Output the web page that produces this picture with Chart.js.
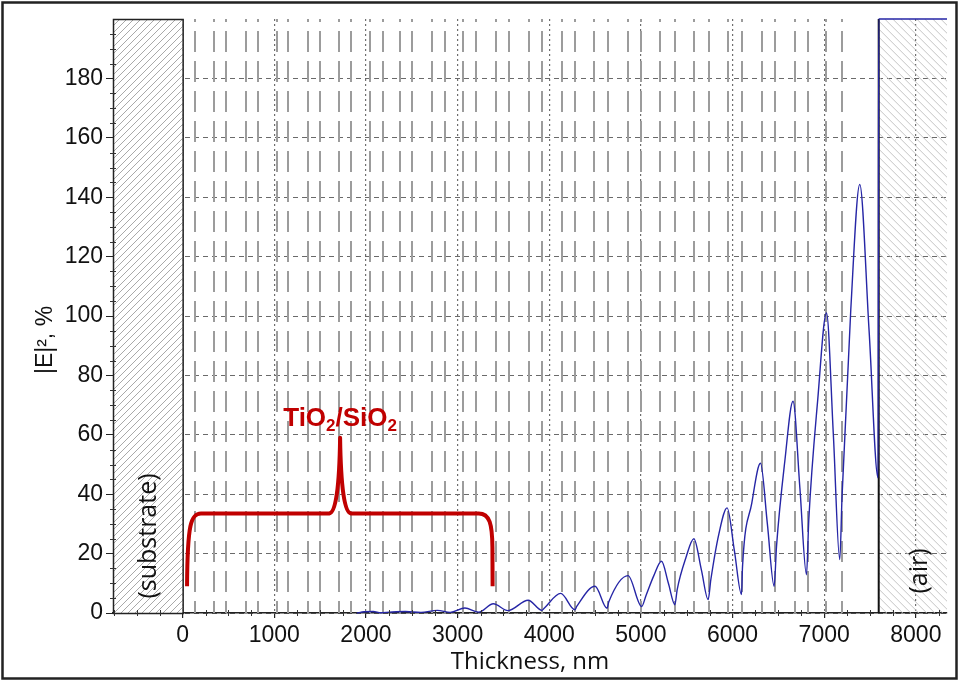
<!DOCTYPE html>
<html>
<head>
<meta charset="utf-8">
<title>|E|² - Thickness</title>
<script src="https://cdn.jsdelivr.net/npm/chart.js@4/dist/chart.umd.min.js"></script>
<style>
  html, body { margin: 0; padding: 0; background: #fff; }
  canvas { display: block; }
</style>
</head>
<body>
<canvas id="fieldChart" width="960" height="682"></canvas>
<script>
// 膜厚 (nm) と電界強度 |E|² (%) ― 図から読み取った値
const thickness = [1900, 1980, 2080, 2160, 2260, 2430, 2600, 2780, 2920, 3080,
  3230, 3390, 3550, 3770, 3920, 3945, 4125, 4280, 4300, 4500,
  4630, 4650, 4860, 5008, 5055, 5140, 5225, 5300, 5371, 5396,
  5490, 5578, 5660, 5734, 5763, 5850, 5941, 6020, 6098, 6109,
  6210, 6305, 6380, 6454, 6480, 6570, 6660, 6735, 6807, 6832,
  6930, 7025, 7100, 7170, 7195, 7290, 7388, 7490, 7588, 7595, 8340];
const fieldValues = [0, 0.4, 0.5, 0.1, 0.3, 0.5, 0.2, 0.9, 0.2, 1.7,
  0.3, 3.1, 0.8, 4.3, 0.9, 1.6, 6.6, 1.1, 2.2, 9.0,
  1.6, 3.8, 12.6, 2.2, 5.8, 12.5, 17.4, 10.0, 2.8, 7.9,
  18.5, 25.0, 14.5, 4.5, 11.2, 26.5, 35.4, 21.0, 6.2, 15.7,
  37.0, 50.4, 30.0, 9.0, 22.5, 51.0, 71.3, 42.0, 12.9, 31.4,
  72.0, 101.0, 60.0, 18.0, 39.4, 102.0, 144.3, 95.0, 45.5, 200, 200];

// 層の境界 (nm)
const layerEdges = [136, 344, 474, 689, 827, 1030, 1154, 1365, 1499, 1706,
  1837, 2045, 2183, 2372, 2506, 2720, 2863, 3062, 3201, 3415,
  3561, 3779, 3917, 4142, 4280, 4491, 4643, 4861, 5000, 5207,
  5371, 5578, 5742, 5945, 6098, 6316, 6461, 6679, 6824, 7025, 7189];

// 軸の目盛り
const xTicks = [0, 1000, 2000, 3000, 4000, 5000, 6000, 7000, 8000];
const yTicks = [0, 20, 40, 60, 80, 100, 120, 140, 160, 180];

// 基板と空気の範囲 (nm)
const substrateEnd = 0;
const airStart = 7595;

const red = "#c00000";

// 斜線で塗る
function hatch(ctx, x1, y1, x2, y2, step, dir, color) {
  ctx.save();
  ctx.beginPath();
  ctx.rect(x1, y1, x2 - x1, y2 - y1);
  ctx.clip();
  ctx.strokeStyle = color;
  ctx.lineWidth = 1;
  const h = y2 - y1;
  for (let x = x1 - h; x < x2 + h; x += step) {
    ctx.beginPath();
    if (dir > 0) { ctx.moveTo(x, y2); ctx.lineTo(x + h, y1); }
    else { ctx.moveTo(x, y1); ctx.lineTo(x + h, y2); }
    ctx.stroke();
  }
  ctx.restore();
}

// 層境界・基板・空気の描画
const layersPlugin = {
  id: "layers",
  beforeDatasetsDraw(chart) {
    const { ctx, chartArea: a, scales: { x, y } } = chart;

    // 層の境界 (破線)
    ctx.save();
    ctx.strokeStyle = "#9c9c9c";
    ctx.lineWidth = 2;
    ctx.setLineDash([21, 9]);
    ctx.lineDashOffset = 18;
    layerEdges.forEach(v => {
      const px = Math.round(x.getPixelForValue(v));
      ctx.beginPath();
      ctx.moveTo(px, a.top);
      ctx.lineTo(px, a.bottom);
      ctx.stroke();
    });
    ctx.restore();

    // 基板
    const sx = x.getPixelForValue(substrateEnd);
    const top = y.getPixelForValue(200);
    ctx.save();
    ctx.fillStyle = "#fff";
    ctx.fillRect(a.left, top, sx - a.left, a.bottom - top);
    hatch(ctx, a.left, top, sx, a.bottom, 7, 1, "#a9a9a9");
    ctx.strokeStyle = "#222";
    ctx.lineWidth = 1.5;
    ctx.strokeRect(a.left + 0.5, top + 0.5, sx - a.left, a.bottom - top);
    ctx.restore();

    // 空気
    const ax = x.getPixelForValue(airStart);
    hatch(ctx, ax, top, a.right, a.bottom, 8, -1, "#c4c4c4");
    ctx.save();
    ctx.strokeStyle = "#111";
    ctx.lineWidth = 2;
    ctx.beginPath();
    ctx.moveTo(ax, top);
    ctx.lineTo(ax, a.bottom);
    ctx.stroke();
    ctx.restore();
  },
  afterDraw(chart) {
    const { ctx, chartArea: a, scales: { x, y } } = chart;
    const X = v => x.getPixelForValue(v);
    const Y = v => y.getPixelForValue(v);

    // 補助目盛り
    ctx.save();
    ctx.strokeStyle = "#333";
    ctx.lineWidth = 1;
    for (let v = 5; v < 200; v += 5) {
      if (v % 20 === 0) continue;
      const py = Math.round(Y(v)) + 0.5;
      ctx.beginPath(); ctx.moveTo(a.left - 3, py); ctx.lineTo(a.left + 3, py); ctx.stroke();
    }
    for (let v = -750; v <= 8250; v += 250) {
      if (v % 1000 === 0) continue;
      const px = Math.round(X(v)) + 0.5;
      ctx.beginPath(); ctx.moveTo(px, a.bottom - 3); ctx.lineTo(px, a.bottom + 3); ctx.stroke();
    }
    ctx.restore();

    // TiO2/SiO2 の括弧
    ctx.save();
    ctx.strokeStyle = red;
    ctx.lineWidth = 4;
    ctx.lineJoin = "round";
    ctx.beginPath();
    ctx.moveTo(X(48), Y(9));
    ctx.bezierCurveTo(X(52), Y(30), X(90), Y(33.5), X(200), Y(33.5));
    ctx.lineTo(X(1600), Y(33.5));
    ctx.quadraticCurveTo(X(1706), Y(34), X(1718), Y(59));
    ctx.quadraticCurveTo(X(1730), Y(34), X(1836), Y(33.5));
    ctx.lineTo(X(3230), Y(33.5));
    ctx.bezierCurveTo(X(3350), Y(33.5), X(3378), Y(30), X(3380), Y(22));
    ctx.lineTo(X(3382), Y(9));
    ctx.stroke();

    // ラベル (下付き文字)
    const big = 'bold 26px "Liberation Sans", Arial, sans-serif';
    const small = 'bold 17px "Liberation Sans", Arial, sans-serif';
    const parts = [["TiO", big, 0], ["2", small, 5], ["/SiO", big, 0], ["2", small, 5]];
    let w = 0;
    parts.forEach(p => { ctx.font = p[1]; w += ctx.measureText(p[0]).width; });
    let tx = X(1718) - w / 2;
    ctx.fillStyle = red;
    ctx.textBaseline = "alphabetic";
    parts.forEach(p => {
      ctx.font = p[1];
      ctx.fillText(p[0], tx, 426 + p[2]);
      tx += ctx.measureText(p[0]).width;
    });
    ctx.restore();

    // 縦書きのラベル
    const vText = (text, cx, cy, font) => {
      ctx.save();
      ctx.translate(cx, cy);
      ctx.rotate(-Math.PI / 2);
      ctx.font = font;
      ctx.fillStyle = "#111";
      ctx.textAlign = "center";
      ctx.textBaseline = "middle";
      ctx.fillText(text, 0, 0);
      ctx.restore();
    };
    vText("(substrate)", (a.left + X(substrateEnd)) / 2 + 1, 536, '25px "Open Sans", sans-serif');
    vText("(air)", 920, 571, '25px "Open Sans", sans-serif');
    vText("|E|², %", 46, 340, '23px "Liberation Sans", Arial, sans-serif');

    // 外枠
    ctx.save();
    ctx.strokeStyle = "#222";
    ctx.lineWidth = 2.5;
    ctx.strokeRect(2.5, 2.5, 954, 676);
    ctx.restore();
  }
};

const tickFont = { family: '"Liberation Sans", Arial, sans-serif', size: 23 };

new Chart(document.getElementById("fieldChart"), {
  type: "line",
  data: {
    datasets: [{
      data: thickness.map((t, i) => ({ x: t, y: fieldValues[i] })),
      borderColor: "#2626a6",
      borderWidth: 1.4,
      pointRadius: 0,
      cubicInterpolationMode: "monotone",
      fill: false,
      clip: 2
    }]
  },
  options: {
    responsive: false,
    animation: false,
    layout: { padding: { top: 19, right: 13, left: 0, bottom: 0 } },
    plugins: { legend: { display: false }, tooltip: { enabled: false } },
    scales: {
      x: {
        type: "linear",
        min: -760,
        max: 8340,
        afterBuildTicks: scale => { scale.ticks = xTicks.map(v => ({ value: v })); },
        afterFit: scale => { scale.height = 69; },
        ticks: { color: "#111", font: tickFont, padding: 4, maxRotation: 0, callback: v => String(v) },
        grid: { color: "#6e6e6e", lineWidth: 1.2, tickLength: 5, tickColor: "#222", tickWidth: 1.2 },
        border: { display: true, color: "#222", width: 1.5, dash: [2, 3] },
        title: {
          display: true,
          text: "Thickness, nm",
          color: "#111",
          font: { family: '"Open Sans", sans-serif', size: 24 },
          padding: { top: 0, bottom: 5 }
        }
      },
      y: {
        min: 0,
        max: 200,
        afterBuildTicks: scale => { scale.ticks = yTicks.map(v => ({ value: v })); },
        afterFit: scale => { scale.width = 113; },
        ticks: { color: "#111", font: tickFont, padding: 3, callback: v => String(v) },
        grid: { color: "#6a6a6a", lineWidth: 1, tickLength: 7, tickColor: "#222" },
        border: { display: false, dash: [5, 4] }
      }
    }
  },
  plugins: [layersPlugin]
});
</script>
</body>
</html>
